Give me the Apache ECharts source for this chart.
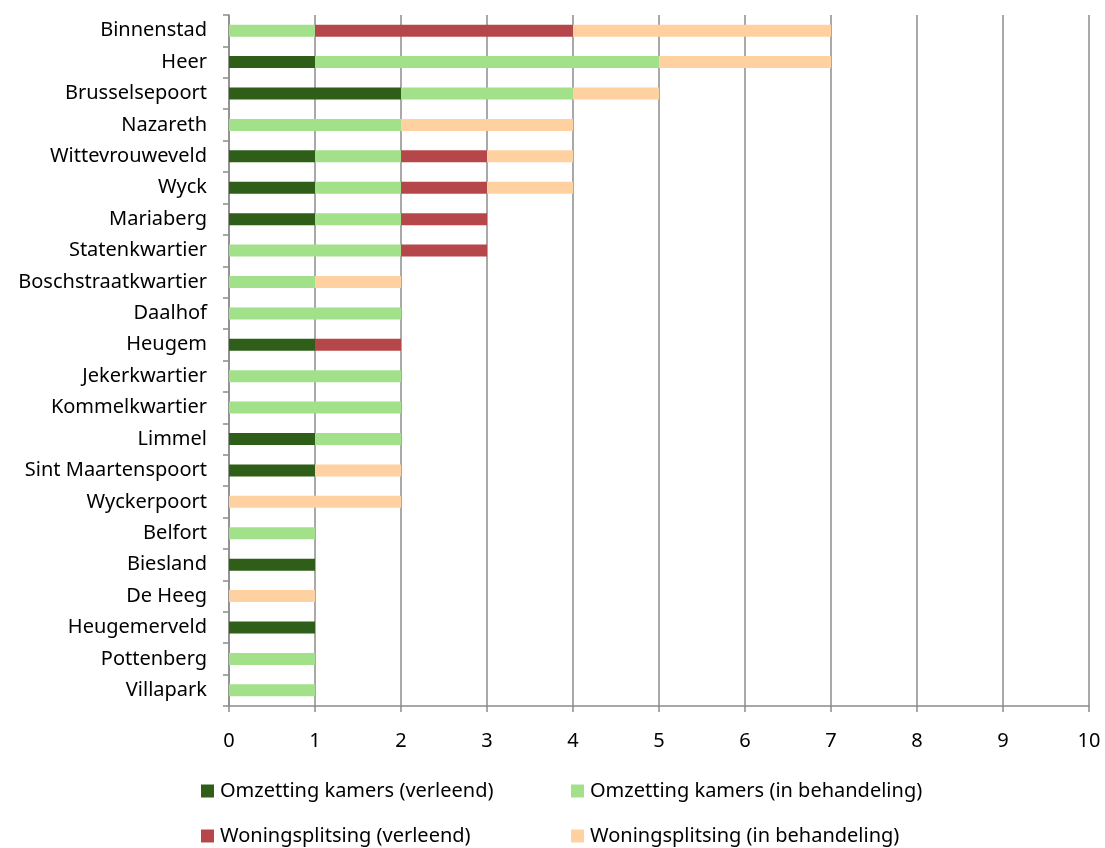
<!DOCTYPE html>
<html><head><meta charset="utf-8">
<script src="https://cdn.jsdelivr.net/npm/echarts@6/dist/echarts.min.js"></script>
<style>html,body{margin:0;padding:0;background:#fff}#c{width:1105px;height:848px}</style>
</head><body><div id="c"></div>
<script>
const categories = ["Binnenstad","Heer","Brusselsepoort","Nazareth","Wittevrouweveld","Wyck","Mariaberg","Statenkwartier","Boschstraatkwartier","Daalhof","Heugem","Jekerkwartier","Kommelkwartier","Limmel","Sint Maartenspoort","Wyckerpoort","Belfort","Biesland","De Heeg","Heugemerveld","Pottenberg","Villapark"];
const kamersVerleend =     [0,1,2,0,1,1,1,0,0,0,1,0,0,1,1,0,0,1,0,1,0,0];
const kamersBehandeling =  [1,4,2,2,1,1,1,2,1,2,0,2,2,1,0,0,1,0,0,0,1,1];
const splitsingVerleend =  [3,0,0,0,1,1,1,1,0,0,1,0,0,0,0,0,0,0,0,0,0,0];
const splitsingBehandeling=[3,2,1,2,1,1,0,0,1,0,0,0,0,0,1,2,0,0,1,0,0,0];
const seriesNames = ["Omzetting kamers (verleend)","Omzetting kamers (in behandeling)","Woningsplitsing (verleend)","Woningsplitsing (in behandeling)"];
const xTicks = [0,1,2,3,4,5,6,7,8,9,10];

const colors = ["#2E5E17","#A3E08A","#B5474A","#FFD0A0"];
const FONT = "Noto Sans";
const chart = echarts.init(document.getElementById('c'), null, {renderer:'canvas'});
const dataArr = [kamersVerleend,kamersBehandeling,splitsingVerleend,splitsingBehandeling];
const legendPos = [[201,781],[571,781],[201,826],[571,826]];
chart.setOption({
  animation:false,
  textStyle:{fontFamily:FONT},
  grid:{left:229,right:16,top:15,bottom:142},
  legend: seriesNames.map((n,i)=>({
    data:[n], left:legendPos[i][0], top:legendPos[i][1], padding:0,
    itemWidth:13,itemHeight:13,itemGap:0,icon:'rect',
    textStyle:{fontFamily:FONT,fontSize:20,color:'#000',padding:[0,0,0,1]}
  })),
  xAxis:{type:'value',min:xTicks[0],max:xTicks[xTicks.length-1],interval:1,
    axisLine:{show:true,lineStyle:{color:'#8c8c8c',width:1.5}},
    axisTick:{show:true,length:6,lineStyle:{color:'#8c8c8c',width:1.5}},
    axisLabel:{color:'#000',fontSize:20,margin:25,fontFamily:FONT},
    splitLine:{show:true,lineStyle:{color:'#8c8c8c',width:1.5}}},
  yAxis:{type:'category',data:categories,inverse:true,
    axisLine:{show:true,lineStyle:{color:'#8c8c8c',width:1.5}},
    axisTick:{show:true,length:6,lineStyle:{color:'#8c8c8c',width:1.5}},
    axisLabel:{color:'#000',fontSize:20,margin:22,fontFamily:FONT}},
  series: seriesNames.map((n,i)=>({
    name:n,type:'bar',stack:'a',barWidth:12,data:dataArr[i],
    itemStyle:{color:colors[i]}
  }))
});
</script></body></html>
